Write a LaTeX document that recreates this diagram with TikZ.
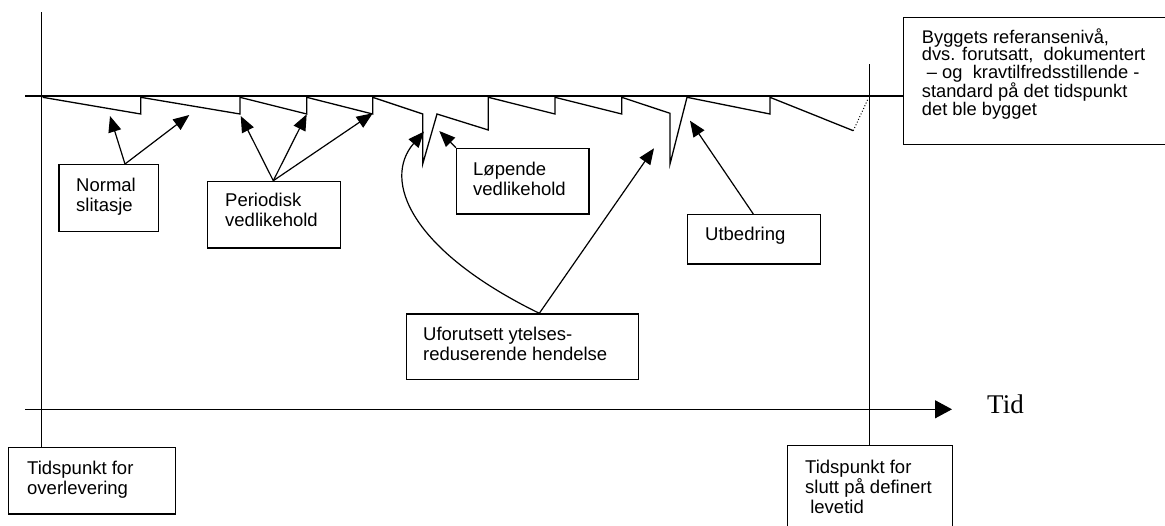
\documentclass[tikz,border=0pt]{standalone}
\usepackage{fontspec}
\setmainfont{Liberation Sans}
\newfontfamily\tidfont{Liberation Serif}
\usetikzlibrary{arrows.meta,calc}
\begin{document}
\begin{tikzpicture}[x=1pt,y=-1pt,
  box/.style={draw, line width=1.2pt, inner sep=0pt, anchor=north west},
  lbl/.style={inner sep=0pt, anchor=north west, align=left, font=\fontsize{18.5}{20}\selectfont},
  ln/.style={line width=1.3pt},
  arr/.style={line width=1.2pt, -{Triangle[length=16pt,width=13pt]}}]
\useasboundingbox (0,0) rectangle (1165,525);
\clip (0,0) rectangle (1165,525);
\fill[white] (0,0) rectangle (1165,525);

% boxes
\node[box, minimum width=99.4pt, minimum height=66.7pt] (ns) at (58.3,164) {};
\node[lbl] (nst) at (76,178) {Normal\\slitasje};
\node[box, minimum width=133.3pt, minimum height=66.6pt] (pv) at (206.7,180.7) {};
\node[lbl] (pvt) at (225,193.3) {Periodisk\\vedlikehold};
\node[box, minimum width=132.3pt, minimum height=65.6pt] (lv) at (456,147.7) {};
\node[lbl] (lvt) at (473,161.7) {Løpende\\vedlikehold};
\node[box, minimum width=133.3pt, minimum height=49.3pt] (ub) at (686.7,214) {};
\node[lbl] (ubt) at (705,227.3) {Utbedring};
\node[box, minimum width=231.7pt, minimum height=65.7pt] (uf) at (406,313.3) {};
\node[lbl] (uft) at (423,327.3) {Uforutsett ytelses-\\reduserende hendelse};
\node[box, minimum width=167pt, minimum height=66.6pt] (to) at (8,446.7) {};
\node[lbl] (tot) at (27,461) {Tidspunkt for\\overlevering};
\node[box, minimum width=165.3pt, minimum height=85pt] (ts) at (786.7,445) {};
\node[lbl] (tst) at (805,460) {Tidspunkt for\\slutt på definert\\\ levetid};
\node[box, minimum width=270pt, minimum height=127.3pt] (rb) at (903,16.7) {};
\node[lbl, font=\fontsize{18.3}{17.5}\selectfont] (rbt) at (921.7,28.3) {Byggets referansenivå,\\dvs. forutsatt,\ \ dokumentert\\\ – og\ \ kravtilfredsstillende -\\standard på det tidspunkt\\det ble bygget};

% frame lines
\coordinate (lt) at (41.7,12);
\draw[ln] (lt) -- (lt |- to.north);
\coordinate (rt) at (869.3,64);
\draw[ln] (rt) -- (rt |- ts.north);
\coordinate (rl) at (25,96);
\draw[ln] (rl) -- (rl -| rb.west);

% time axis
\coordinate (ta) at (25,409.3);
\coordinate (tb) at (952,409.3);
\draw[line width=1.2pt, -{Triangle[length=17pt,width=18pt]}] (ta) -- (tb);
\node[font=\tidfont\fontsize{27}{30}\selectfont, anchor=base west, inner sep=0pt] (tid) at (987,413) {Tid};

% performance curve
\draw[ln, line join=miter] (42.7,97.3) -- (140.7,114) -- (140.7,97.3) -- (240,114) -- (240,97.3)
  -- (306.7,114) -- (306.7,97.3) -- (372.7,114) -- (372.7,97.3) -- (422.7,114) -- (422.7,164)
  -- (437,114) -- (488.3,130) -- (488.3,97.3) -- (555,114) -- (555,97.3) -- (621.7,114)
  -- (621.7,97.3) -- (670,113.3) -- (670,164) -- (687,97.3) -- (770,114) -- (770,97.3)
  -- (853.3,130.7);
\draw[line width=1pt, dotted] (853.3,130.7) -- (868.3,98.3);

% arrow targets
\coordinate (ns1) at (110,116);
\coordinate (ns2) at (189.3,115);
\coordinate (pv1) at (240.7,116);
\coordinate (pv2) at (306.7,114.3);
\coordinate (pv3) at (372.7,113.3);
\coordinate (lv1) at (439.3,131);
\coordinate (uf1) at (654,148.3);
\coordinate (uf2) at (424,131.5);
\coordinate (ub1) at (690,120.7);

% arrows
\coordinate (nso) at ([xshift=66.7pt]ns.north west);
\coordinate (pvo) at ([xshift=66.6pt]pv.north west);
\coordinate (ufo) at ([xshift=133.3pt]uf.north west);
\coordinate (ubo) at ([xshift=66.6pt]ub.north west);
\draw[arr] (nso) -- (ns1);
\draw[arr] (nso) -- (ns2);
\draw[arr] (pvo) -- (pv1);
\draw[arr] (pvo) -- (pv2);
\draw[arr] (pvo) -- (pv3);
\draw[arr] (lv.north west) -- (lv1);
\draw[arr] (ufo) -- (uf1);
\draw[arr] (ufo) .. controls (410,250) and (382,180) .. (uf2);
\draw[arr] (ubo) -- (ub1);
\end{tikzpicture}
\end{document}
